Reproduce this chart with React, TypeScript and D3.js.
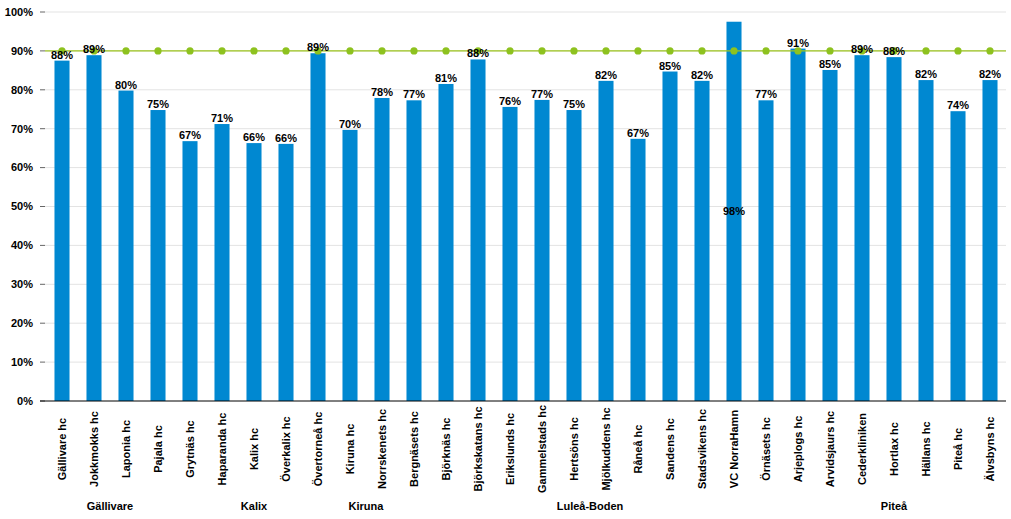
import React from "react";
import * as d3 from "d3";

const categories = [
  "Gällivare hc", "Jokkmokks hc", "Laponia hc", "Pajala hc", "Grytnäs hc",
  "Haparanda hc", "Kalix hc", "Överkalix hc", "Övertorneå hc", "Kiruna hc",
  "Norrskenets hc", "Bergnäsets hc", "Björknäs hc", "Björkskatans hc", "Erikslunds hc",
  "Gammelstads hc", "Hertsöns hc", "Mjölkuddens hc", "Råneå hc", "Sandens hc",
  "Stadsvikens hc", "VC NorraHamn", "Örnäsets hc", "Arjeplogs hc", "Arvidsjaurs hc",
  "Cederkliniken", "Hortlax hc", "Hällans hc", "Piteå hc", "Älvsbyns hc",
];

const values = [
  0.875, 0.889, 0.798, 0.748, 0.668, 0.712, 0.663, 0.661, 0.894, 0.697,
  0.779, 0.773, 0.815, 0.878, 0.756, 0.774, 0.748, 0.823, 0.674, 0.847,
  0.823, 0.975, 0.773, 0.906, 0.851, 0.889, 0.884, 0.825, 0.745, 0.825,
];

const valueLabels = [
  "88%", "89%", "80%", "75%", "67%", "71%", "66%", "66%", "89%", "70%",
  "78%", "77%", "81%", "88%", "76%", "77%", "75%", "82%", "67%", "85%",
  "82%", "98%", "77%", "91%", "85%", "89%", "88%", "82%", "74%", "82%",
];

const target = 0.9;

const groups = [
  { name: "Gällivare", from: 0, to: 3 },
  { name: "Kalix", from: 4, to: 8 },
  { name: "Kiruna", from: 9, to: 10 },
  { name: "Luleå-Boden", from: 11, to: 22 },
  { name: "Piteå", from: 23, to: 29 },
];

const yTicks = [0, 0.1, 0.2, 0.3, 0.4, 0.5, 0.6, 0.7, 0.8, 0.9, 1.0];
const insideLabelIdx = [21];

const W = 1011;
const H = 519;
const FONT = "'Liberation Sans', Arial, sans-serif";

export default function App() {
  const x = d3.scaleBand<string>().domain(categories).range([46, 1006]).paddingInner(0.53).paddingOuter(0.265);
  const y = d3.scaleLinear().domain([0, 1]).range([401, 12]);
  const xc = (i: number) => (x(categories[i]) as number) + x.bandwidth() / 2;
  const line = d3.line<number>().x((_, i) => xc(i)).y(() => y(target));

  return (
    <svg width={W} height={H} style={{ position: "absolute", left: 0, top: 0, background: "#fff" }} fontFamily={FONT}>
      {yTicks.map((t) => (
        <g key={t}>
          {t > 0 && <line x1={45} x2={1006} y1={y(t)} y2={y(t)} stroke="#e3e3e3" strokeWidth={1} />}
          <line x1={40} x2={45} y1={y(t)} y2={y(t)} stroke="#666" strokeWidth={1} />
          <text x={33} y={y(t)} dy="0.35em" textAnchor="end" fontSize={11} fontWeight="bold" fill="#000">
            {d3.format(".0%")(t)}
          </text>
        </g>
      ))}
      {values.map((v, i) => (
        <rect key={i} x={x(categories[i])} y={y(v)} width={x.bandwidth()} height={y(0) - y(v)} fill="#0088d1" />
      ))}
      <line x1={40} x2={1006} y1={y(0)} y2={y(0)} stroke="#000" strokeWidth={1} />
      <path d={line(categories.map(() => target)) || ""} fill="none" stroke="#9cc41c" strokeWidth={1.2} />
      <line x1={45} x2={xc(0)} y1={y(target)} y2={y(target)} stroke="#9cc41c" strokeWidth={1.2} />
      <line x1={xc(categories.length - 1)} x2={1006} y1={y(target)} y2={y(target)} stroke="#9cc41c" strokeWidth={1.2} />
      {categories.map((c, i) => (
        <circle key={c} cx={xc(i)} cy={y(target)} r={3.6} fill="#8ec21f" />
      ))}
      {values.map((v, i) => {
        const inside = insideLabelIdx.includes(i);
        return (
          <text
            key={i}
            x={xc(i)}
            y={inside ? (y(v) + y(0)) / 2 : y(v) - 2}
            dy={inside ? "0.35em" : 0}
            textAnchor="middle"
            fontSize={11}
            fontWeight="bold"
            fill="#000"
          >
            {valueLabels[i]}
          </text>
        );
      })}
      {categories.map((c, i) => (
        <text
          key={c}
          transform={`translate(${xc(i)},449) rotate(-90)`}
          dy="0.35em"
          textAnchor="middle"
          fontSize={11}
          fontWeight="bold"
          fill="#000"
        >
          {c}
        </text>
      ))}
      {groups.map((g) => (
        <text key={g.name} x={(xc(g.from) + xc(g.to)) / 2} y={510} textAnchor="middle" fontSize={11} fontWeight="bold" fill="#000">
          {g.name}
        </text>
      ))}
    </svg>
  );
}
